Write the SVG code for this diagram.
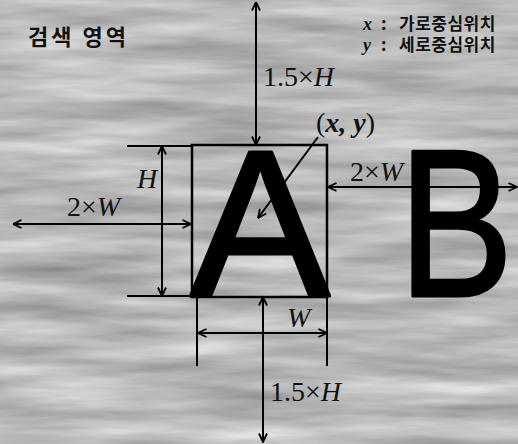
<svg xmlns="http://www.w3.org/2000/svg" width="518" height="444" viewBox="0 0 518 444">
  <defs>
    <filter id="tex" x="0" y="0" width="100%" height="100%" filterUnits="userSpaceOnUse" color-interpolation-filters="sRGB">
      <feTurbulence type="fractalNoise" baseFrequency="0.006 0.05" numOctaves="4" seed="7" result="n"/>
      <feColorMatrix in="n" type="matrix" values="0.45 0 0 0 0.5  0.45 0 0 0 0.5  0.45 0 0 0 0.5  0 0 0 0 1"/>
    </filter>
    <marker id="ah" viewBox="0 0 10 10" refX="9.5" refY="5" markerWidth="10" markerHeight="10" markerUnits="userSpaceOnUse" orient="auto-start-reverse">
      <path d="M1,1 L9.5,5 L1,9" fill="none" stroke="#000" stroke-width="1.8"/>
    </marker>
    <style>
      .dim { stroke:#000; stroke-width:2; fill:none; marker-start:url(#ah); marker-end:url(#ah); }
      .one { stroke:#000; stroke-width:2; fill:none; marker-end:url(#ah); }
      .ext { stroke:#000; stroke-width:2; fill:none; }
      .lbl { font-family:"Liberation Serif", serif; font-size:28px; fill:#111; }
      .it { font-style:italic; }
      .kr { font-family:"Noto Sans CJK KR", sans-serif; font-weight:bold; fill:#111; }
      .lg { font-family:"Liberation Serif", serif; font-style:italic; font-weight:bold; font-size:18px; fill:#111; }
      .big { font-family:"Liberation Sans", Arial, sans-serif; font-size:210px; fill:#000; stroke:#000; stroke-width:3; stroke-linejoin:round; }
    </style>
  </defs>

  <rect x="0" y="0" width="518" height="444" fill="#fff"/>
  <rect x="13" y="3" width="505" height="440" fill="#aaa" filter="url(#tex)"/>

  <g id="title">
    <text class="kr" x="28" y="45" font-size="22" letter-spacing="3">검색 영역</text>
  </g>

  <g id="legend">
    <text class="lg" x="363" y="30">x</text>
    <text class="kr" x="381" y="30" font-size="17">:</text>
    <text class="kr" x="399" y="30" font-size="17" letter-spacing="0.5">가로중심위치</text>
    <text class="lg" x="363" y="51">y</text>
    <text class="kr" x="381" y="51" font-size="17">:</text>
    <text class="kr" x="399" y="51" font-size="17" letter-spacing="0.5">세로중심위치</text>
  </g>

  <g id="boxA">
    <rect x="192" y="145" width="135" height="152" fill="none" stroke="#000" stroke-width="2.5"/>
    <text class="big" x="260" y="296" text-anchor="middle">A</text>
  </g>

  <g id="letterB">
    <g transform="translate(410,296) scale(0.82,1)">
      <text class="big" x="-14">B</text>
    </g>
  </g>

  <g id="connectors">
    <line class="dim" x1="256" y1="2" x2="256" y2="145"/>
    <line class="dim" x1="263" y1="297" x2="263" y2="442"/>
    <line class="ext" x1="127" y1="146" x2="192" y2="146"/>
    <line class="ext" x1="127" y1="296" x2="192" y2="296"/>
    <line class="dim" x1="162" y1="146" x2="162" y2="296"/>
    <line class="dim" x1="13" y1="224" x2="191" y2="224"/>
    <line class="dim" x1="328" y1="187" x2="517" y2="187"/>
    <line class="ext" x1="197" y1="297" x2="197" y2="366"/>
    <line class="ext" x1="327" y1="297" x2="327" y2="366"/>
    <line class="dim" x1="198" y1="333" x2="327" y2="333"/>
    <line class="one" x1="318" y1="137" x2="258" y2="218"/>
  </g>

  <g id="labels">
    <text class="lbl" x="263" y="86">1.5×<tspan class="it">H</tspan></text>
    <text class="lbl" x="270" y="401">1.5×<tspan class="it">H</tspan></text>
    <text class="lbl it" x="137" y="188">H</text>
    <text class="lbl" x="67" y="216">2×<tspan class="it">W</tspan></text>
    <text class="lbl" x="350" y="181">2×<tspan class="it">W</tspan></text>
    <text class="lbl it" x="287" y="327">W</text>
    <text class="lbl" x="316" y="132" font-size="24">(<tspan class="it" font-weight="bold">x, y</tspan>)</text>
  </g>
</svg>
